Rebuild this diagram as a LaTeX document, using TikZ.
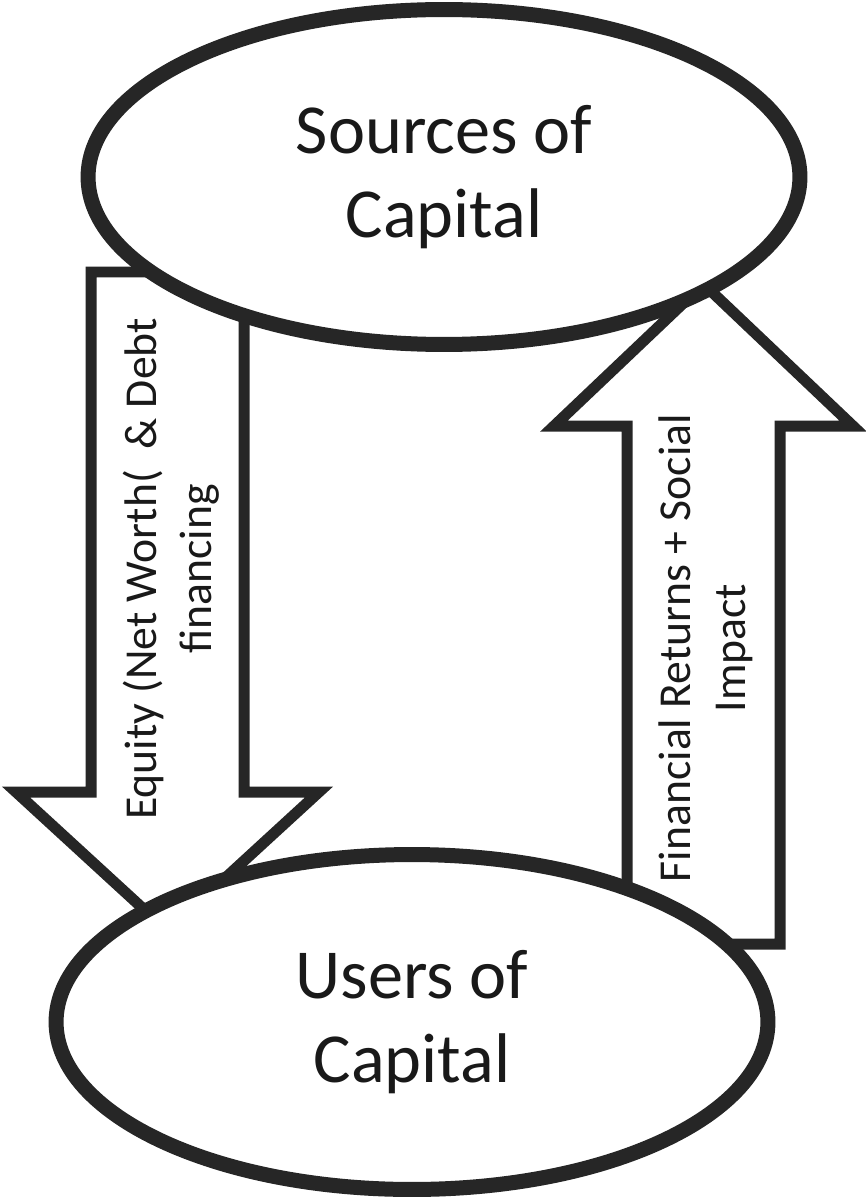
\documentclass[tikz,border=0pt]{standalone}
\usepackage{fontspec}
\setmainfont{Carlito}
\usetikzlibrary{shapes.geometric}

\tikzset{
  capital/.style={ellipse, draw=black!85, line width=0.3cm, fill=white,
    minimum width=14.24cm, minimum height=6.7cm, inner sep=0pt, align=center,
    font=\fontsize{40}{48}\selectfont, text=black!90},
  flowarrow/.style={draw=black!85, line width=0.22cm, fill=white, line join=miter},
  flowtext/.style={rotate=90, align=center, font=\fontsize{26}{31}\selectfont, text=black!90}
}

\begin{document}
\begin{tikzpicture}[x=0.02cm, y=-0.02cm]
	\useasboundingbox (0,0) rectangle (865,1199);
	% money going down
	\draw[flowarrow] (91,272) -- (244,272) -- (244,792) -- (319,792) -- (167.5,931) -- (16,792) -- (91,792) -- cycle;
	\node[flowtext] (equity) at (171,569) {Equity (Net Worth(\ \ \& Debt\\financing};
	% returns going up
	\draw[flowarrow] (627,944) -- (780,944) -- (780,426) -- (853,426) -- (703.5,284) -- (554,426) -- (627,426) -- cycle;
	\node[flowtext] (returns) at (706,648) {Financial Returns + Social\\Impact};
	% ellipses on top
	\node[capital] (sources) at (444,177) {Sources of\\Capital};
	\node[capital] (users) at (412,1022) {Users of\\Capital};
\end{tikzpicture}
\end{document}
